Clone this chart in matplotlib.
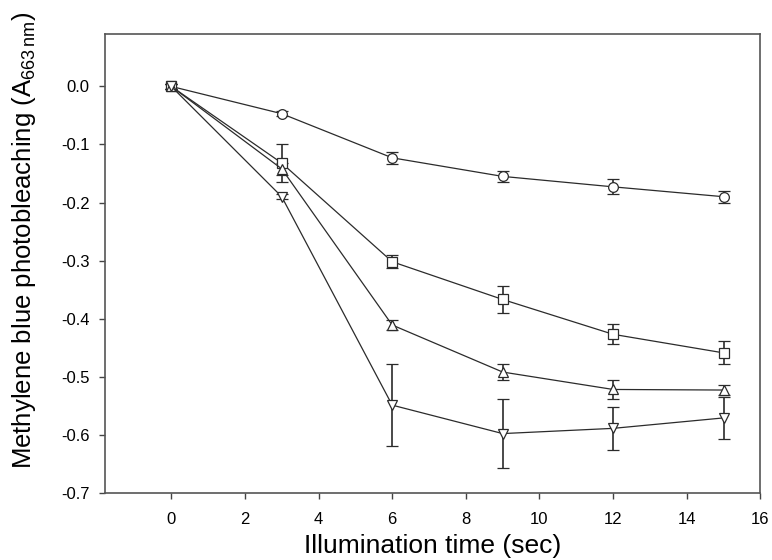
import matplotlib
matplotlib.use("Agg")
import matplotlib.pyplot as plt
import numpy as np

plt.rcParams['font.family'] = ['Liberation Sans', 'DejaVu Sans']
plt.rcParams['mathtext.fontset'] = 'custom'
plt.rcParams['mathtext.rm'] = 'Liberation Sans'

time = [0, 3, 6, 9, 12, 15]

circle_y = [0.0, -0.047, -0.123, -0.155, -0.173, -0.190]
circle_err = [0.005, 0.004, 0.010, 0.009, 0.013, 0.010]

square_y = [0.0, -0.132, -0.302, -0.367, -0.427, -0.459]
square_err = [0.005, 0.032, 0.011, 0.023, 0.017, 0.020]

triangle_y = [0.0, -0.142, -0.411, -0.492, -0.522, -0.523]
triangle_err = [0.005, 0.010, 0.009, 0.014, 0.016, 0.008]

invtri_y = [0.0, -0.190, -0.549, -0.598, -0.589, -0.571]
invtri_err = [0.005, 0.004, 0.071, 0.059, 0.037, 0.036]

x_ticks = [0, 2, 4, 6, 8, 10, 12, 14, 16]
y_ticks = [0.0, -0.1, -0.2, -0.3, -0.4, -0.5, -0.6, -0.7]

fig = plt.figure(figsize=(7.72, 5.6), dpi=100)
ax = fig.add_axes([0.136, 0.120, 0.849, 0.819])

lc = '#2b2b2b'
series = [
    (circle_y, circle_err, 'o'),
    (square_y, square_err, 's'),
    (triangle_y, triangle_err, '^'),
    (invtri_y, invtri_err, 'v'),
]
for y, e, m in series:
    ax.errorbar(time, y, yerr=e, color=lc, lw=0.9, marker=m, ms=7,
                mfc='white', mec=lc, mew=0.9, ecolor=lc, elinewidth=1.2,
                capsize=4.5, capthick=1.3)

ax.set_xlim(-1.8, 16)
ax.set_ylim(-0.7, 0.09)
ax.set_xticks(x_ticks)
ax.set_yticks(y_ticks)
ax.set_yticklabels([f'{v:.1f}' for v in y_ticks])
ax.tick_params(axis='both', direction='out', length=4, width=1, color='#444444',
               labelsize=12, pad=7)
ax.tick_params(axis='x', pad=10)
for s in ax.spines.values():
    s.set_color('#555555')
    s.set_linewidth(1.2)

ax.set_xlabel('Illumination time (sec)', fontsize=19, labelpad=5)
ax.set_ylabel(r'Methylene blue photobleaching (A$_{\mathregular{663\,nm}}$)',
              fontsize=18.5)
ax.yaxis.set_label_coords(-0.102, 0.551)

fig.savefig('out.png', dpi=100)
